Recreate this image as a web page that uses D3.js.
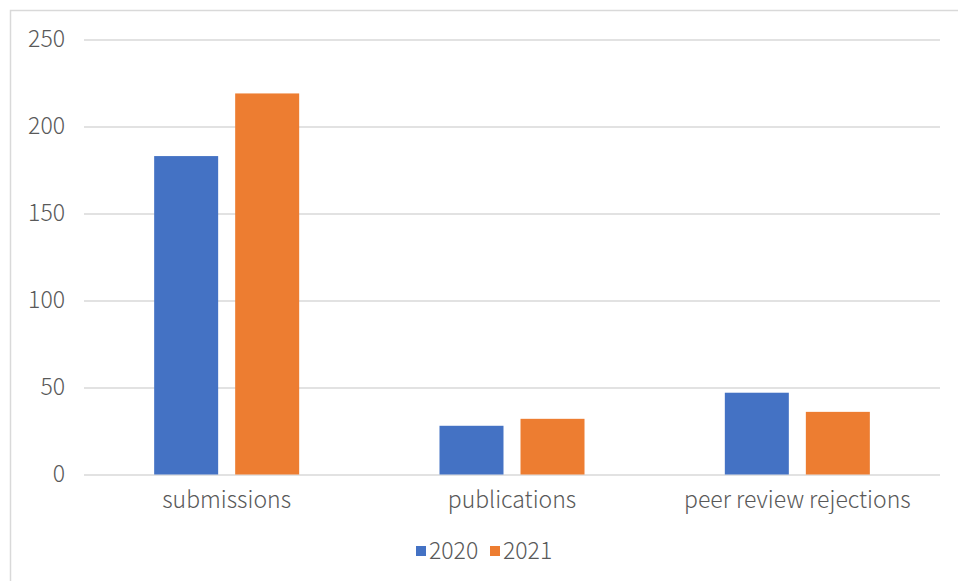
<!DOCTYPE html>
<html>
<head>
<meta charset="utf-8">
<script src="https://cdn.jsdelivr.net/npm/d3@7"></script>
<style>
  html, body { margin: 0; padding: 0; background: #fff; overflow: hidden; }
  svg text { font-family: "Noto Sans CJK SC", "Noto Sans", sans-serif; fill: #595959; }
</style>
</head>
<body>
<div class="container"></div>
<script>
const width = 958,
    height = 581;

const categories = ['submissions', 'publications', 'peer review rejections'];
const years = ['2020', '2021'];
const values2020 = [183, 28, 47];
const values2021 = [219, 32, 36];
const yTicks = [0, 50, 100, 150, 200, 250];
const colors = ['#4472C4', '#ED7D31'];

const rows = categories.map((c, i) => ({
    category: c,
    values: [
        { year: years[0], value: values2020[i] },
        { year: years[1], value: values2021[i] }
    ]
}));

const svg = d3.select('.container')
    .append('svg')
    .attr('width', width)
    .attr('height', height);

// chart border (runs off the right and bottom edges)
svg.append('rect')
    .attr('x', 10.5)
    .attr('y', 10.5)
    .attr('width', 960)
    .attr('height', 600)
    .attr('fill', 'none')
    .attr('stroke', '#d9d9d9')
    .attr('stroke-width', 1.5);

const x0 = d3.scaleBand()
    .domain(categories)
    .range([84, 940]);

const x1 = d3.scaleBand()
    .domain(years)
    .range([0, x0.bandwidth()])
    .paddingInner(0.21)
    .paddingOuter(0.866);

const y = d3.scaleLinear()
    .domain([0, 250])
    .range([474.5, 39.5]);

// gridlines + y labels
const yAxis = svg.append('g')
    .attr('transform', 'translate(84,0)')
    .call(d3.axisLeft(y)
        .tickValues(yTicks)
        .tickSize(-(940 - 84))
        .tickPadding(19));

yAxis.select('.domain').remove();
yAxis.selectAll('.tick line')
    .attr('stroke', '#d9d9d9')
    .attr('stroke-width', 1.5);
yAxis.selectAll('.tick text')
    .attr('font-size', 23)
    .attr('font-weight', 300)
    .attr('fill', '#595959');

const groups = svg.append('g')
    .selectAll('g')
    .data(rows)
    .enter()
    .append('g')
    .attr('transform', d => `translate(${x0(d.category)},0)`);

groups.selectAll('rect')
    .data(d => d.values)
    .enter()
    .append('rect')
    .attr('x', d => x1(d.year))
    .attr('y', d => y(d.value))
    .attr('width', x1.bandwidth())
    .attr('height', d => y(0) - y(d.value))
    .attr('fill', (d, i) => colors[i]);

// category labels
const xAxis = svg.append('g')
    .attr('transform', `translate(0,${y(0)})`)
    .call(d3.axisBottom(x0).tickSize(0).tickPadding(17));

xAxis.select('.domain').remove();
xAxis.selectAll('.tick text')
    .attr('font-size', 23)
    .attr('font-weight', 300)
    .attr('fill', '#595959');

// legend
const legend = svg.append('g')
    .attr('id', 'legend');

const legendItems = legend.selectAll('g')
    .data(years)
    .enter()
    .append('g')
    .attr('transform', (d, i) => `translate(${416 + i * 74},546)`);

legendItems.append('rect')
    .attr('width', 10)
    .attr('height', 10)
    .attr('fill', (d, i) => colors[i]);

legendItems.append('text')
    .attr('x', 13)
    .attr('y', 5)
    .attr('dy', '0.35em')
    .attr('font-size', 23)
    .attr('font-weight', 300)
    .text(d => d);
</script>
</body>
</html>
